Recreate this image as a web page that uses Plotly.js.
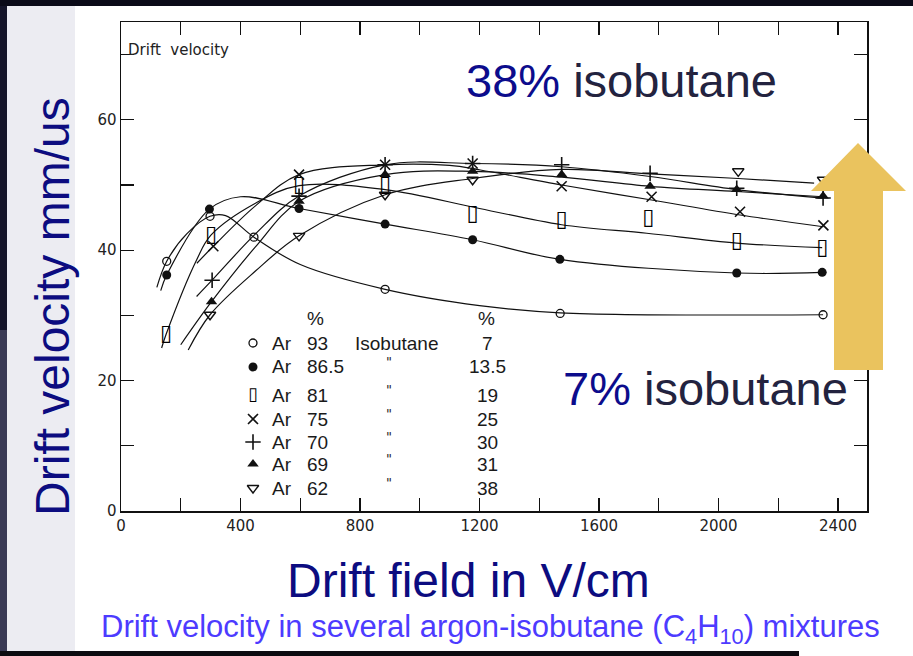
<!DOCTYPE html>
<html>
<head>
<meta charset="utf-8">
<script src="https://cdn.plot.ly/plotly-3.0.1.min.js"></script>
<style>html,body{margin:0;padding:0;background:#fff;}#chart{width:913px;height:656px;}</style>
</head>
<body>
<div id="chart"></div>
<script>
// ---- data (field in V/cm, drift velocity in mm/us) ----
const isoPct = ['7', '13.5', '19', '25', '30', '31', '38'];
const arPct  = ['93', '86.5', '81', '75', '70', '69', '62'];

// measured points (markers)
const field7  = [153, 298, 445, 884, 1470, 2350];
const vel7    = [38.3, 45.2, 42.0, 34.0, 30.3, 30.1];
const field13 = [153, 296, 596, 884, 1177, 1469, 2061, 2347];
const vel13   = [36.2, 46.3, 46.4, 44.0, 41.6, 38.6, 36.5, 36.6];
const field19 = [151, 301, 596, 884, 1177, 1475, 1765, 2061, 2347];
const vel19   = [27.1, 42.3, 50.0, 50.0, 45.4, 44.6, 44.9, 41.4, 40.3];
const field25 = [309, 596, 884, 1177, 1475, 1776, 2072, 2351];
const vel25   = [40.6, 51.6, 53.1, 53.3, 49.8, 48.2, 45.9, 43.8];
const field30 = [305, 596, 884, 1177, 1475, 1771, 2061, 2350];
const vel30   = [35.4, 48.3, 53.1, 53.3, 53.1, 51.8, 49.5, 48.0];
const field31 = [303, 596, 884, 1177, 1475, 1771, 2061, 2350];
const vel31   = [32.1, 47.5, 51.6, 52.1, 51.6, 49.8, 49.3, 48.3];
const field38 = [298, 596, 884, 1177, 2066, 2350];
const vel38   = [30.1, 42.2, 48.5, 50.8, 52.1, 50.8];

// hand-drawn fitted curves (nodes)
const curve7F  = [120, 153, 220, 298, 350, 445, 600, 884, 1200, 1470, 2350];
const curve7V  = [34.3, 38.3, 42.5, 45.2, 45.3, 42.0, 37.8, 34.0, 31.5, 30.4, 30.1];
const curve13F = [133, 153, 296, 400, 596, 884, 1177, 1469, 2061, 2347];
const curve13V = [33.8, 36.2, 46.3, 48.2, 46.4, 44.0, 41.6, 38.6, 36.5, 36.6];
const curve19F = [136, 151, 253, 301, 450, 596, 884, 1200, 1475, 1760, 2061, 2347];
const curve19V = [25.0, 27.1, 38.5, 42.3, 47.2, 49.9, 49.3, 46.4, 43.9, 42.6, 41.1, 40.4];
const curve25F = [254, 309, 450, 596, 884, 1100, 1203, 1475, 1776, 2072, 2351];
const curve25V = [38.0, 40.6, 46.8, 51.6, 53.1, 53.0, 52.3, 50.0, 47.7, 45.4, 43.6];
const curve30F = [253, 305, 450, 596, 884, 1177, 1475, 1771, 2061, 2350];
const curve30V = [32.9, 35.4, 42.5, 48.3, 53.1, 53.3, 52.8, 51.3, 49.3, 48.0];
const curve31F = [200, 303, 450, 596, 884, 1177, 1475, 1771, 2061, 2350];
const curve31V = [25.5, 32.1, 40.5, 47.5, 51.6, 52.1, 51.2, 49.8, 49.0, 48.2];
const curve38F = [225, 298, 450, 596, 884, 1177, 1475, 1771, 2066, 2320];
const curve38V = [24.7, 30.1, 36.8, 42.2, 48.5, 51.0, 52.4, 51.7, 51.0, 50.3];

const xTickVals = [0,200,400,600,800,1000,1200,1400,1600,1800,2000,2200,2400];
const xTickText = ['0','','400','','800','','1200','','1600','','2000','','2400'];
const yTickVals = [0,10,20,30,40,50,60,70];
const yTickText = ['0','','20','','40','','60',''];

// ---- layout helpers ----
const L = 121, R = 867, T = 22, B = 511;
const PX = px => (px - L) / (R - L);
const PY = py => (B - py) / (B - T);
const X_MAX = 2497, Y_MAX = 75;
const dataX = px => (px - L) / (R - L) * X_MAX;
const dataY = py => (B - py) / (B - T) * Y_MAX;

const fields = [field7, field13, field19, field25, field30, field31, field38];
const vels   = [vel7, vel13, vel19, vel25, vel30, vel31, vel38];
const curveF = [curve7F, curve13F, curve19F, curve25F, curve30F, curve31F, curve38F];
const curveV = [curve7V, curve13V, curve19V, curve25V, curve30V, curve31V, curve38V];

const styles = [
  {symbol: 'circle-open', size: 8, line: {color: '#111', width: 1.3}, color: '#111'},
  {symbol: 'circle', size: 9, line: {color: '#111', width: 0}, color: '#111'},
  null, // tall rectangle drawn as glyph
  {symbol: 'x-thin-open', size: 10, line: {color: '#111', width: 1.6}, color: '#111'},
  {symbol: 'cross-thin-open', size: 11, line: {color: '#111', width: 1.6}, color: '#111'},
  {symbol: 'triangle-up', size: 10, line: {color: '#111', width: 0}, color: '#111'},
  {symbol: 'triangle-down-open', size: 10, line: {color: '#111', width: 1.4}, color: '#111'}
];

const traces = [];
for (let i = 0; i < 7; i++) {
  traces.push({
    x: curveF[i], y: curveV[i],
    mode: 'lines', type: 'scatter', hoverinfo: 'skip', showlegend: false,
    line: {color: '#111', width: 1.2, shape: 'spline', smoothing: 1}
  });
}
const rowPy = [343, 367, 395, 419, 442, 464, 488];
for (let i = 0; i < 7; i++) {
  const lx = [dataX(253)], ly = [dataY(rowPy[i])];
  if (styles[i]) {
    traces.push({x: fields[i], y: vels[i], mode: 'markers', type: 'scatter', showlegend: false, marker: styles[i]});
    traces.push({x: lx, y: ly, mode: 'markers', type: 'scatter', showlegend: false, marker: styles[i]});
  } else {
    traces.push({x: fields[i], y: vels[i], mode: 'text', type: 'scatter', showlegend: false,
      text: fields[i].map(() => '\u25AF'), textposition: 'middle center',
      textfont: {family: 'DejaVu Sans', size: 22, color: '#000'}});
    traces.push({x: lx, y: ly, mode: 'text', type: 'scatter', showlegend: false,
      text: ['\u25AF'], textposition: 'middle center',
      textfont: {family: 'DejaVu Sans', size: 18, color: '#000'}});
  }
}

const legFont = {family: 'Liberation Sans', size: 19, color: '#1a1a1a'};
const ann = [];
ann.push({xref:'paper', yref:'paper', x: PX(126), y: PY(50), xanchor:'left', yanchor:'middle', showarrow:false,
  text:'Drift&nbsp;&nbsp;velocity', font:{family:'DejaVu Sans', size:15, color:'#222'}});
ann.push({xref:'paper', yref:'paper', x: PX(315), y: PY(318), xanchor:'center', yanchor:'middle', showarrow:false, text:'%', font: legFont});
ann.push({xref:'paper', yref:'paper', x: PX(486), y: PY(318), xanchor:'center', yanchor:'middle', showarrow:false, text:'%', font: legFont});
for (let i = 0; i < 7; i++) {
  const y = PY(rowPy[i]);
  ann.push({xref:'paper', yref:'paper', x: PX(270), y, xanchor:'left', yanchor:'middle', showarrow:false, text:'Ar', font: legFont});
  ann.push({xref:'paper', yref:'paper', x: PX(305), y, xanchor:'left', yanchor:'middle', showarrow:false, text: arPct[i], font: legFont});
  if (i === 0) {
    ann.push({xref:'paper', yref:'paper', x: PX(396), y, xanchor:'center', yanchor:'middle', showarrow:false, text:'Isobutane', font: legFont});
  } else {
    ann.push({xref:'paper', yref:'paper', x: PX(389), y: PY(rowPy[i] - 6), xanchor:'center', yanchor:'middle', showarrow:false,
      text:'"', font:{family:'DejaVu Sans', size:13, color:'#222'}});
  }
  ann.push({xref:'paper', yref:'paper', x: PX(487), y, xanchor:'center', yanchor:'middle', showarrow:false, text: isoPct[i], font: legFont});
}
// slide texts
ann.push({xref:'paper', yref:'paper', x: PX(621), y: PY(80), xanchor:'center', yanchor:'middle', showarrow:false,
  text:'<span style="color:#0c0c8c">38%</span> isobutane', font:{family:'Liberation Sans', size:47, color:'#23233f'}});
ann.push({xref:'paper', yref:'paper', x: PX(705), y: PY(388), xanchor:'center', yanchor:'middle', showarrow:false,
  text:'<span style="color:#0c0c8c">7%</span> isobutane', font:{family:'Liberation Sans', size:47, color:'#23233f'}});
ann.push({xref:'paper', yref:'paper', x: PX(52), y: PY(307), xanchor:'center', yanchor:'middle', textangle:-90, showarrow:false,
  text:'Drift velocity mm/us', font:{family:'Liberation Sans', size:48, color:'#0c0c80'}});
ann.push({xref:'paper', yref:'paper', x: PX(468), y: PY(580), xanchor:'center', yanchor:'middle', showarrow:false,
  text:'Drift field in V/cm', font:{family:'Liberation Sans', size:48, color:'#0c0c80'}});
ann.push({xref:'paper', yref:'paper', x: PX(490), y: PY(629), xanchor:'center', yanchor:'middle', showarrow:false,
  text:'Drift velocity in several argon-isobutane (C<sub>4</sub>H<sub>10</sub>) mixtures', font:{family:'Liberation Sans', size:31, color:'#4d3bff'}});

const arrowPath = 'M' + [[858,143],[906,191],[883,191],[883,370],[834,370],[834,191],[811,191]]
  .map(p => PX(p[0]) + ',' + PY(p[1])).join(' L') + ' Z';

const shapes = [
  {type:'rect', xref:'paper', yref:'paper', x0:PX(7), x1:PX(75), y0:PY(656), y1:PY(0), fillcolor:'#ececf2', line:{width:0}, layer:'below'},
  {type:'rect', xref:'paper', yref:'paper', x0:PX(0), x1:PX(7), y0:PY(330), y1:PY(0), fillcolor:'#15152a', line:{width:0}, layer:'below'},
  {type:'rect', xref:'paper', yref:'paper', x0:PX(0), x1:PX(7), y0:PY(656), y1:PY(330), fillcolor:'#3a3a55', line:{width:0}, layer:'below'},
  {type:'rect', xref:'paper', yref:'paper', x0:PX(0), x1:PX(913), y0:PY(6), y1:PY(0), fillcolor:'#0b0b18', line:{width:0}, layer:'below'},
  {type:'rect', xref:'paper', yref:'paper', x0:PX(0), x1:PX(799), y0:PY(656), y1:PY(651), fillcolor:'#0b0b10', line:{width:0}, layer:'below'},
  {type:'path', xref:'paper', yref:'paper', path: arrowPath, fillcolor:'#eac35e', line:{width:0}, layer:'above'}
];

const axisCommon = {showgrid:false, zeroline:false, showline:true, linecolor:'#111', linewidth:1.5, mirror:'ticks',
  ticks:'inside', ticklen:13, tickwidth:1.1, tickcolor:'#111', tickmode:'array', fixedrange:true,
  tickfont:{family:'DejaVu Sans', size:15, color:'#222'}};

const layout = {
  width: 913, height: 656,
  margin: {l: L, r: 913 - R, t: T, b: 656 - B, pad: 0},
  paper_bgcolor: '#ffffff', plot_bgcolor: '#ffffff',
  showlegend: false,
  xaxis: Object.assign({}, axisCommon, {range:[0, X_MAX], tickvals: xTickVals, ticktext: xTickText}),
  yaxis: Object.assign({}, axisCommon, {range:[0, Y_MAX], tickvals: yTickVals, ticktext: yTickText}),
  annotations: ann,
  shapes: shapes
};

Plotly.newPlot('chart', traces, layout, {displayModeBar: false, staticPlot: true});
</script>
</body>
</html>
